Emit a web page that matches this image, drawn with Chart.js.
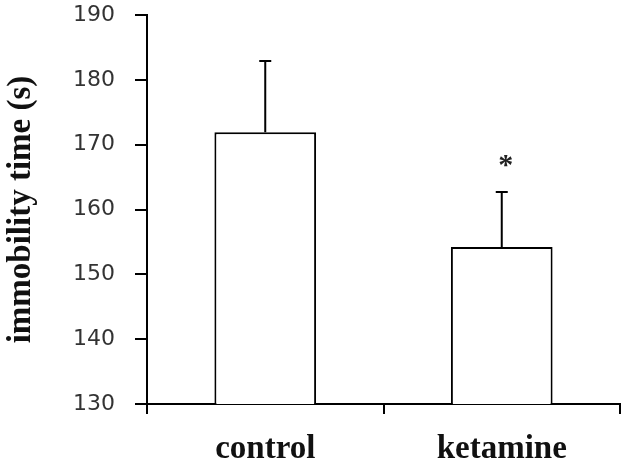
<!DOCTYPE html>
<html lang="en">
<head>
    <meta charset="UTF-8">
    <title>Immobility time</title>
    <script src="https://cdn.jsdelivr.net/npm/chart.js"></script>
    <style>
        html, body { margin: 0; padding: 0; background: #fff; }
        #wrap { width: 630px; height: 469px; }
    </style>
</head>
<body>
    <div id="wrap">
        <canvas id="immobilityChart"></canvas>
    </div>
    <script>
        // values
        const groups = ['control', 'ketamine'];
        const meanTime = [171.9, 154.2];
        const semTime = [11.0, 8.5];
        const significance = ['', '*'];
        const yTicks = [130, 140, 150, 160, 170, 180, 190];

        // upward error bars + significance marks
        const errorBars = {
            id: 'errorBars',
            afterDatasetsDraw(chart) {
                const ctx = chart.ctx;
                const x = chart.scales.x;
                const y = chart.scales.y;
                ctx.save();
                ctx.strokeStyle = '#000';
                ctx.lineWidth = 2;
                groups.forEach((g, i) => {
                    const cx = x.getPixelForValue(i);
                    const top = y.getPixelForValue(meanTime[i] + semTime[i]);
                    const base = y.getPixelForValue(meanTime[i]);
                    ctx.beginPath();
                    ctx.moveTo(cx, base);
                    ctx.lineTo(cx, top);
                    ctx.moveTo(cx - 6, top);
                    ctx.lineTo(cx + 6, top);
                    ctx.stroke();
                    if (significance[i]) {
                        ctx.fillStyle = '#222';
                        ctx.font = 'bold 30px "Liberation Serif"';
                        ctx.textAlign = 'center';
                        ctx.textBaseline = 'middle';
                        ctx.fillText(significance[i], cx + 4, top - 26);
                    }
                });
                ctx.restore();
            }
        };

        const ctx = document.getElementById('immobilityChart').getContext('2d');
        const chart = new Chart(ctx, {
            type: 'bar',
            data: {
                labels: groups,
                datasets: [{
                    data: meanTime,
                    backgroundColor: '#fff',
                    borderColor: '#000',
                    borderWidth: 2,
                    borderSkipped: false,
                    categoryPercentage: 1,
                    barPercentage: 0.43
                }]
            },
            options: {
                responsive: true,
                maintainAspectRatio: false,
                animation: false,
                layout: { padding: { top: 15, right: 10, left: 0, bottom: 0 } },
                plugins: {
                    legend: { display: false },
                    tooltip: { enabled: false }
                },
                scales: {
                    x: {
                        grid: {
                            offset: true,
                            drawOnChartArea: false,
                            drawTicks: true,
                            tickLength: 10,
                            color: '#000',
                            lineWidth: 2
                        },
                        border: { display: true, color: '#000', width: 2 },
                        ticks: {
                            color: '#111',
                            padding: 16,
                            font: { family: '"Liberation Serif"', size: 33, weight: 'bold' }
                        },
                        afterFit(scale) {
                            scale.height = 65;
                            scale.paddingLeft = 0;
                            scale.paddingRight = 0;
                        }
                    },
                    y: {
                        min: 130,
                        max: 190,
                        afterBuildTicks(scale) {
                            scale.ticks = yTicks.map(v => ({ value: v }));
                        },
                        grid: {
                            drawOnChartArea: false,
                            drawTicks: true,
                            tickLength: 12,
                            color: '#000',
                            lineWidth: 2
                        },
                        border: { display: true, color: '#000', width: 2 },
                        ticks: {
                            color: '#333',
                            padding: 20,
                            font: { family: '"DejaVu Sans"', size: 22 }
                        },
                        title: {
                            display: true,
                            text: 'immobility time (s)',
                            color: '#111',
                            padding: { top: 2, bottom: 0 },
                            font: { family: '"Liberation Serif"', size: 33, weight: 'bold' }
                        },
                        afterFit(scale) {
                            scale.width = 147;
                            scale.paddingTop = 0;
                            scale.paddingBottom = 0;
                        }
                    }
                }
            },
            plugins: [errorBars]
        });
    </script>
</body>
</html>
